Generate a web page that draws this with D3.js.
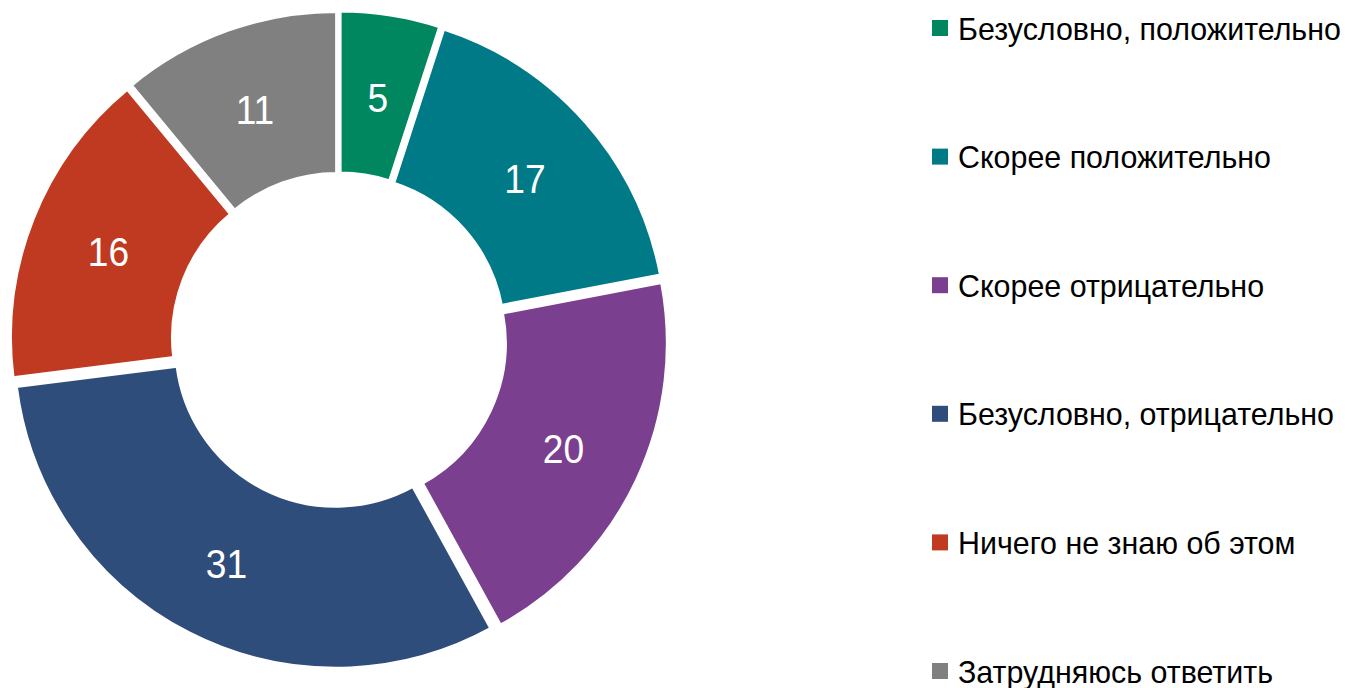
<!DOCTYPE html>
<html><head><meta charset="utf-8">
<script src="https://cdn.jsdelivr.net/npm/d3@7"></script>
<style>html,body{margin:0;padding:0;background:#fff;}</style>
</head><body>
<svg id="c" width="1345" height="688"></svg>
<script>
const categories = ["Безусловно, положительно","Скорее положительно","Скорее отрицательно","Безусловно, отрицательно","Ничего не знаю об этом","Затрудняюсь ответить"];
const values = [5,17,20,31,16,11];
const colors = ["#00875F","#007A87","#7B3F8F","#2E4D7B","#C03A22","#808080"];

const svg = d3.select("#c");
const cx = 339, cy = 340, R = 322, r = 160, explode = 7;
const pie = d3.pie().sort(null).value(d=>d)(values);
const arc = d3.arc().innerRadius(r).outerRadius(R);
const g = svg.append("g").attr("transform",`translate(${cx},${cy})`);
const slices = g.selectAll("g.s").data(pie).join("g").attr("class","s")
  .attr("transform", d=>{const a=(d.startAngle+d.endAngle)/2; return `translate(${Math.sin(a)*explode},${-Math.cos(a)*explode})`;});
slices.append("path").attr("d",arc).attr("fill",(d,i)=>colors[i]).attr("stroke","#fff").attr("stroke-width",3);
const font = "'Liberation Sans',Arial,sans-serif";
slices.append("text").attr("transform",d=>{const c=arc.centroid(d); return `translate(${c[0]},${c[1]+3}) scale(0.93,1)`;})
  .attr("text-anchor","middle").attr("dy","0.36em")
  .attr("fill","#fff").attr("font-family",font).attr("font-size",40)
  .text(d=>d.data);

const y = d3.scalePoint().domain(categories).range([28,671]);
const leg = svg.append("g").selectAll("g").data(categories).join("g")
  .attr("transform",d=>`translate(932,${y(d)})`);
leg.append("rect").attr("x",0).attr("y",-8).attr("width",16).attr("height",16).attr("fill",(d,i)=>colors[i]);
leg.append("text").attr("transform","translate(26,0) scale(0.95,1)").attr("dy","0.36em").attr("font-family",font).attr("font-size",32).attr("fill","#000").text(d=>d);
</script>
</body></html>
